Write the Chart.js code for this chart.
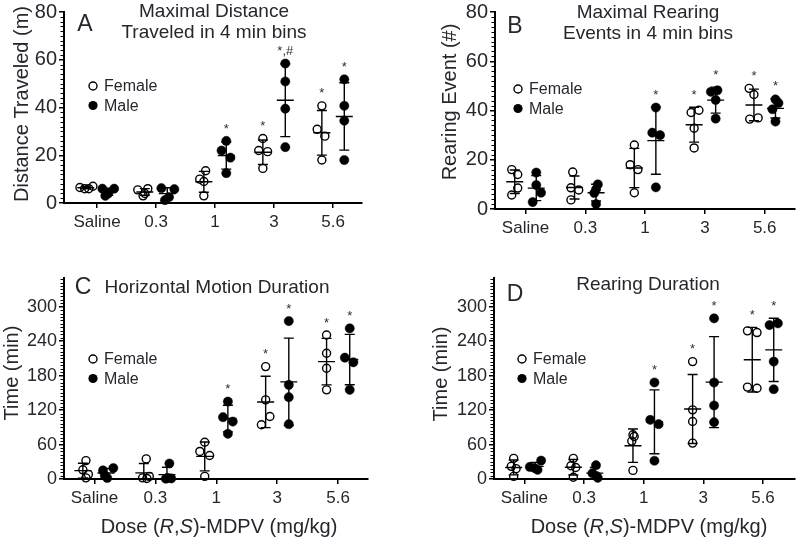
<!DOCTYPE html>
<html><head><meta charset="utf-8">
<script src="https://cdn.jsdelivr.net/npm/chart.js@4"></script>
<style>
html,body{margin:0;padding:0;background:#fff;}
#wrap{position:relative;width:800px;height:539px;overflow:hidden;background:#fff;}
canvas{position:absolute;}
</style></head><body>
<div id="wrap">
<canvas id="cA" width="400" height="262" style="left:0;top:0"></canvas>
<canvas id="cB" width="400" height="262" style="left:400px;top:0"></canvas>
<canvas id="cC" width="400" height="277" style="left:0;top:262px"></canvas>
<canvas id="cD" width="400" height="277" style="left:400px;top:262px"></canvas>
</div>
<script>
// ---------- data ----------
const doses = ['Saline', '0.3', '1', '3', '5.6'];
const seriesNames = ['Female', 'Male'];

// A: Maximal distance traveled (m)
const distFemale = [[6.5, 6, 6, 7], [6, 5.5, 4, 3], [13.5, 10, 9, 3], [27, 22, 21.5, 14.5], [40.7, 30.9, 28, 18]];
const distMale = [[6, 6, 4, 3], [6.2, 5.8, 2.5, 1.2], [26, 22, 19, 12.5], [58.4, 50.9, 39.5, 23.4], [51.8, 40.7, 34.5, 18]];
const distFemaleJitter = [[-0.1, -0.02, 0.05, 0.12], [0.05, -0.12, 0, -0.03], [0.03, -0.07, 0, 0], [0, -0.07, 0.08, 0], [0, -0.08, 0.05, 0]];
const distMaleJitter = [[-0.1, 0.1, 0, -0.05], [-0.1, 0.12, 0.03, -0.04], [0, -0.08, 0.07, 0], [0, 0, 0, 0], [0, 0, 0, 0]];
const distFemaleSig = ['', '', '', '*', '*'];
const distMaleSig = ['', '', '*', '*,#', '*'];

// B: Maximal rearing events (#)
const rearFemale = [[16, 14, 8.5, 5.7], [15, 8.6, 7.7, 3.7], [26, 18, 16, 6.6], [39.2, 40.1, 32.8, 24.8], [49, 46.5, 36.5, 37]];
const rearMale = [[14.8, 9.7, 6.6, 2.8], [10, 8, 6.5, 2], [41.2, 31, 30, 8.8], [48.2, 47.6, 44.3, 36.7], [44.5, 43, 40.5, 35.5]];
const rearFemaleJitter = [[-0.05, 0.05, 0.05, -0.05], [-0.03, -0.06, 0.07, -0.06], [0, -0.07, 0.06, 0], [-0.05, 0.08, 0, 0], [-0.08, 0, -0.07, 0.07]];
const rearMaleJitter = [[0, 0, 0.08, -0.06], [0.03, 0, -0.03, 0], [0, -0.06, 0.07, 0], [0.03, -0.08, 0, 0], [0, 0.05, -0.05, 0]];
const rearFemaleSig = ['', '', '', '*', '*'];
const rearMaleSig = ['', '', '*', '*', '*'];

// C: Horizontal motion duration (min)
const horizFemale = [[32, 16, 8, 2], [35, 4.5, 2, 1], [64, 48, 41, 4.5], [195.7, 137.8, 108.9, 94.4], [250.7, 218.9, 192.8, 155.2]];
const horizMale = [[19, 15, 5.8, 1.7], [27, 2, 1, 0.5], [134.8, 107.7, 100, 78.7], [275, 163.9, 142.4, 95.5], [262.3, 211.3, 203.2, 155.2]];
const horizFemaleJitter = [[0.05, 0, 0.09, 0.05], [0.04, 0.09, -0.02, 0.05], [0, -0.08, 0.08, 0], [0, 0, 0.07, -0.07], [0, 0, 0, 0]];
const horizMaleJitter = [[0.12, -0.05, -0.02, 0.02], [0.04, 0.01, 0.07, -0.02], [0, -0.08, 0.08, 0], [0, 0, 0, 0], [0, -0.08, 0.06, 0]];
const horizFemaleSig = ['', '', '', '*', '*'];
const horizMaleSig = ['', '', '*', '*', '*'];

// D: Rearing duration (min)
const rdurFemale = [[36, 22, 18, 4.5], [36, 23, 20, 3], [77, 74, 66, 15], [204.4, 120.4, 100.2, 62.5], [258, 255, 160, 158]];
const rdurMale = [[32, 21, 19, 16], [24, 10, 5, 2], [168, 103, 95.5, 31.8], [279.7, 168, 128, 99], [271, 268, 204.4, 156.3]];
const rdurFemaleJitter = [[0, -0.04, 0.04, 0], [0, -0.04, 0.04, 0], [0, 0.02, -0.02, 0], [0, 0, 0, 0], [-0.08, 0.08, -0.08, 0.08]];
const rdurMaleJitter = [[0.1, -0.09, -0.01, 0.04], [0.02, -0.04, 0.03, 0.05], [0, -0.07, 0.07, 0], [0, 0, 0, 0], [0.07, -0.07, 0, 0]];
const rdurFemaleSig = ['', '', '', '*', '*'];
const rdurMaleSig = ['', '', '*', '*', '*'];

// axis tick values
const countTicks = [0, 20, 40, 60, 80];
const timeTicks = [0, 60, 120, 180, 240, 300];

// ---------- drawing ----------
const FONT = "'Liberation Sans', Arial, Helvetica, sans-serif";
const TXT = '#26262e';

function makePanel(id, cfg) {
  const canvas = document.getElementById(id);
  const W = canvas.width, H = canvas.height;
  const off = cfg.off;
  const mk = (vals, jit, o) => vals.flatMap((g, i) => g.map((v, k) => ({x: i + o + jit[i][k], y: v})));

  const deco = {
    id: 'deco',
    afterDatasetsDraw(chart) {
      const ctx = chart.ctx, xs = chart.scales.x, ys = chart.scales.y;
      const py = v => ys.getPixelForValue(v);
      ctx.save();
      [[cfg.female, -off, cfg.fSig], [cfg.male, off, cfg.mSig]].forEach(([groups, o, sig]) => {
        groups.forEach((g, i) => {
          const n = g.length;
          const m = g.reduce((a, b) => a + b, 0) / n;
          const sd = Math.sqrt(g.reduce((a, b) => a + (b - m) * (b - m), 0) / (n - 1));
          const cx = xs.getPixelForValue(i + o);
          const lo = Math.max(0, m - sd);
          ctx.strokeStyle = '#000';
          ctx.lineWidth = 1.4;
          ctx.beginPath();
          ctx.moveTo(cx, py(m + sd)); ctx.lineTo(cx, py(lo));
          ctx.moveTo(cx - 8.5, py(m)); ctx.lineTo(cx + 8.5, py(m));
          ctx.moveTo(cx - 5, py(m + sd)); ctx.lineTo(cx + 5, py(m + sd));
          if (m - sd > 0) { ctx.moveTo(cx - 5, py(m - sd)); ctx.lineTo(cx + 5, py(m - sd)); }
          ctx.stroke();
          if (sig[i]) {
            const top = Math.max(m + sd, ...g);
            ctx.fillStyle = '#2c2c48';
            ctx.font = '13px ' + FONT;
            ctx.textAlign = 'center';
            ctx.textBaseline = 'middle';
            ctx.fillText(sig[i], cx, py(top) - 12);
          }
        });
      });
      ctx.restore();
    },
    afterDraw(chart) {
      const ctx = chart.ctx, ys = chart.scales.y;
      const left = chart.chartArea.left;
      ctx.save();
      // minor ticks on y axis
      ctx.strokeStyle = '#000';
      ctx.lineWidth = 1;
      ctx.beginPath();
      for (let v = cfg.minor; v <= cfg.yMax + 1e-9; v += cfg.minor) {
        if (cfg.yTicks.some(t => Math.abs(t - v) < 1e-6)) continue;
        const y = Math.round(ys.getPixelForValue(v)) + 0.5;
        ctx.moveTo(left - 3.5, y); ctx.lineTo(left, y);
      }
      ctx.stroke();
      ctx.fillStyle = TXT;
      // panel letter
      ctx.font = '23px ' + FONT;
      ctx.textAlign = 'center'; ctx.textBaseline = 'middle';
      ctx.fillText(cfg.letter, cfg.letterPos[0], cfg.letterPos[1]);
      // title lines
      ctx.font = '19px ' + FONT;
      cfg.title.forEach((t, k) => ctx.fillText(t, cfg.titlePos[0], cfg.titlePos[1] + k * 20.5));
      // y title
      ctx.save();
      ctx.translate(cfg.yTitlePos[0], cfg.yTitlePos[1]);
      ctx.rotate(-Math.PI / 2);
      ctx.font = '20px ' + FONT;
      ctx.fillText(cfg.yTitle, 0, 0);
      ctx.restore();
      // legend
      const ds = chart.data.datasets;
      ctx.font = '16px ' + FONT;
      ctx.textAlign = 'left';
      ds.forEach((d, k) => {
        const lx = cfg.legendPos[0], ly = cfg.legendPos[1] + k * 19.5;
        ctx.beginPath();
        ctx.arc(lx, ly, d.pointRadius, 0, Math.PI * 2);
        if (k === 1) { ctx.fillStyle = '#000'; ctx.fill(); }
        else { ctx.strokeStyle = '#000'; ctx.lineWidth = d.pointBorderWidth; ctx.stroke(); }
        ctx.fillStyle = TXT;
        ctx.fillText(d.label, lx + 11, ly + 1);
      });
      // x title with italic R,S
      if (cfg.xTitle) {
        const parts = [['Dose (', false], ['R', true], [',', false], ['S', true], [')-MDPV (mg/kg)', false]];
        const fn = it => (it ? 'italic ' : '') + '20px ' + FONT;
        let total = 0;
        parts.forEach(([s, it]) => { ctx.font = fn(it); total += ctx.measureText(s).width; });
        let x = cfg.xTitle[0] - total / 2;
        ctx.textAlign = 'left';
        parts.forEach(([s, it]) => { ctx.font = fn(it); ctx.fillText(s, x, cfg.xTitle[1]); x += ctx.measureText(s).width; });
      }
      ctx.restore();
    }
  };

  return new Chart(canvas, {
    type: 'scatter',
    data: {
      datasets: [
        {label: seriesNames[0], data: mk(cfg.female, cfg.fJit, -off), pointRadius: 4, pointBorderWidth: 1.4,
         pointBorderColor: '#000', pointBackgroundColor: 'rgba(255,255,255,0)', clip: false},
        {label: seriesNames[1], data: mk(cfg.male, cfg.mJit, off), pointRadius: 4.6, pointBorderWidth: 0.5,
         pointBorderColor: '#000', pointBackgroundColor: '#000', clip: false}
      ]
    },
    options: {
      responsive: false, animation: false, devicePixelRatio: 1,
      layout: {padding: {top: cfg.area.t, right: W - cfg.area.r, left: 0, bottom: 0}},
      plugins: {legend: {display: false}, tooltip: {enabled: false}},
      scales: {
        x: {
          type: 'linear', min: -cfg.xl, max: 4 + cfg.xr,
          afterBuildTicks: s => { s.ticks = doses.map((d, i) => ({value: i})); },
          afterFit: s => { s.height = H - cfg.area.b; },
          ticks: {callback: v => doses[Math.round(v)], font: {family: FONT, size: 17, lineHeight: 1.1},
                  color: TXT, padding: cfg.xPad, autoSkip: false, maxRotation: 0},
          grid: {display: true, drawOnChartArea: false, drawTicks: true, tickLength: 5, color: '#000', lineWidth: 1.5},
          border: {display: true, color: '#000', width: 2}
        },
        y: {
          min: 0, max: cfg.yMax,
          afterBuildTicks: s => { s.ticks = cfg.yTicks.map(v => ({value: v})); },
          afterFit: s => { s.width = cfg.area.l; },
          ticks: {font: {family: FONT, size: cfg.yFont, lineHeight: 1}, color: TXT, padding: 2},
          grid: {display: true, drawOnChartArea: false, drawTicks: true, tickLength: 5, color: '#000', lineWidth: 1.5},
          border: {display: true, color: '#000', width: 2}
        }
      }
    },
    plugins: [deco]
  });
}

makePanel('cA', {
  female: distFemale, male: distMale, fJit: distFemaleJitter, mJit: distMaleJitter,
  fSig: distFemaleSig, mSig: distMaleSig, off: 0.19,
  area: {l: 64, r: 362, t: 8, b: 203}, xl: 0.56, xr: 0.49, xPad: 5,
  yMax: 80, yTicks: countTicks, minor: 2, yFont: 20,
  letter: 'A', letterPos: [85, 25], title: ['Maximal Distance', 'Traveled in 4 min bins'], titlePos: [214, 12],
  yTitle: 'Distance Traveled (m)', yTitlePos: [22, 104], legendPos: [93, 86]
});
makePanel('cB', {
  female: rearFemale, male: rearMale, fJit: rearFemaleJitter, mJit: rearMaleJitter,
  fSig: rearFemaleSig, mSig: rearMaleSig, off: 0.18,
  area: {l: 95, r: 398, t: 8, b: 209}, xl: 0.51, xr: 0.5, xPad: 5,
  yMax: 80, yTicks: countTicks, minor: 2, yFont: 20,
  letter: 'B', letterPos: [115, 27], title: ['Maximal Rearing', 'Events in 4 min bins'], titlePos: [248, 13],
  yTitle: 'Rearing Event (#)', yTitlePos: [50, 102], legendPos: [118, 89]
});
makePanel('cC', {
  female: horizFemale, male: horizMale, fJit: horizFemaleJitter, mJit: horizMaleJitter,
  fSig: horizFemaleSig, mSig: horizMaleSig, off: 0.19,
  area: {l: 64, r: 368, t: 16, b: 217}, xl: 0.5, xr: 0.49, xPad: 5,
  yMax: 350, yTicks: timeTicks, minor: 6, yFont: 18,
  letter: 'C', letterPos: [83, 26], title: ['Horizontal Motion Duration'], titlePos: [217, 26],
  yTitle: 'Time (min)', yTitlePos: [12, 111], legendPos: [93, 97], xTitle: [219, 265]
});
makePanel('cD', {
  female: rdurFemale, male: rdurMale, fJit: rdurFemaleJitter, mJit: rdurMaleJitter,
  fSig: rdurFemaleSig, mSig: rdurMaleSig, off: 0.18,
  area: {l: 94, r: 400, t: 16, b: 217}, xl: 0.51, xr: 0.53, xPad: 5,
  yMax: 350, yTicks: timeTicks, minor: 6, yFont: 18,
  letter: 'D', letterPos: [115, 33], title: ['Rearing Duration'], titlePos: [248, 23],
  yTitle: 'Time (min)', yTitlePos: [41, 112], legendPos: [122, 97], xTitle: [249, 265]
});
</script>
</body></html>
